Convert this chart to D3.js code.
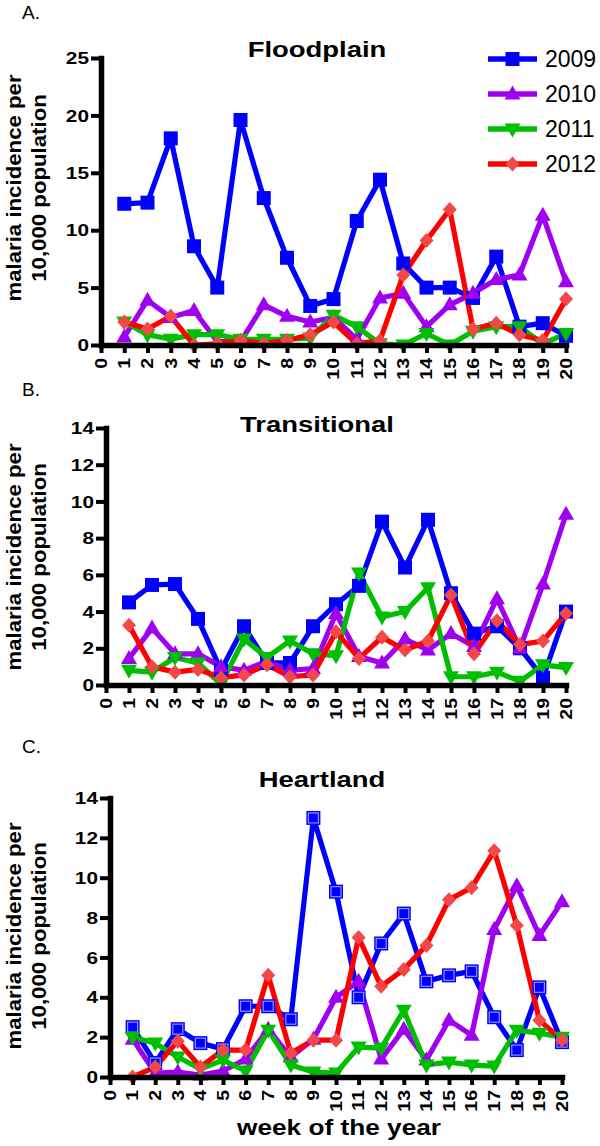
<!DOCTYPE html>
<html>
<head>
<meta charset="utf-8">
<script src="https://cdn.jsdelivr.net/npm/d3@7"></script>
<style>
  html, body { margin: 0; padding: 0; background: #fff; }
  svg { display: block; }
  text { font-family: "Liberation Sans", Arial, Helvetica, sans-serif; }
</style>
</head>
<body>
<svg id="chart" width="600" height="1146"></svg>
<script>
// ---------------- DATA ----------------
const weeks = [1,2,3,4,5,6,7,8,9,10,11,12,13,14,15,16,17,18,19,20];
const weekTicks = [0,1,2,3,4,5,6,7,8,9,10,11,12,13,14,15,16,17,18,19,20];
const years = ["2009", "2010", "2011", "2012"];

const flood2009 = [12.3,12.4,18.0,8.6,5.0,19.6,12.8,7.6,3.4,4.0,10.8,14.4,7.1,5.0,5.0,4.1,7.7,1.6,1.9,0.8];
const flood2010 = [0.7,3.9,2.4,3.0,0.3,0.3,3.5,2.5,2.0,2.4,0.5,4.1,4.5,1.6,3.5,4.5,5.7,6.1,11.3,5.5];
const flood2011 = [2.0,0.9,0.5,0.9,0.9,0.5,0.5,0.5,0.6,2.6,1.6,0.1,0.0,1.0,0.0,1.2,1.6,1.6,0.1,1.0];
const flood2012 = [2.0,1.4,2.5,0.0,0.1,0.4,0.1,0.4,0.9,2.0,0.1,0.4,6.1,9.1,11.8,1.4,1.9,0.9,0.4,4.0];

const trans2009 = [4.5,5.45,5.5,3.6,0.8,3.2,1.2,1.2,3.2,4.4,5.4,8.9,6.4,9.0,5.0,2.8,3.2,2.0,0.4,4.0];
const trans2010 = [1.45,3.1,1.7,1.7,1.0,0.8,1.3,0.8,0.9,3.9,1.55,1.2,2.5,1.9,2.8,2.1,4.7,2.0,5.5,9.3];
const trans2011 = [0.8,0.7,1.5,1.2,0.05,2.5,1.5,2.4,1.7,1.6,6.1,3.7,4.0,5.3,0.45,0.45,0.7,0.2,1.1,0.95];
const trans2012 = [3.25,1.0,0.7,0.85,0.4,0.55,1.1,0.45,0.55,2.9,1.45,2.6,1.9,2.4,4.9,1.7,3.5,2.2,2.4,3.9];

const heart2009 = [2.5,0.7,2.4,1.7,1.4,3.55,3.55,2.9,13.0,9.3,4.0,6.7,8.2,4.8,5.1,5.3,3.0,1.35,4.5,1.75];
const heart2010 = [1.9,0.2,0.25,0.1,0.3,0.9,2.4,1.0,1.9,4.0,4.8,0.9,2.4,0.85,2.85,2.1,7.4,9.6,7.1,8.8];
const heart2011 = [2.0,1.7,1.0,0.4,0.85,0.3,2.35,0.6,0.25,0.2,1.5,1.45,3.35,0.6,0.75,0.6,0.55,2.35,2.2,2.0];
const heart2012 = [0.0,0.5,1.8,0.5,1.35,1.35,5.1,1.2,1.85,1.85,7.0,4.55,5.4,6.6,8.9,9.5,11.35,7.6,2.85,1.85];

const floodTicks = [0,5,10,15,20,25];
const otherTicks = [0,2,4,6,8,10,12,14];

// ---------------- STYLE / LAYOUT ----------------
const colors = {"2009": "#0000ff", "2010": "#a000f0", "2011": "#00bf00", "2012": "#ff0000"};
const markerFill = {"2009": "#0000ff", "2010": "#a000f0", "2011": "#00bf00", "2012": "#f24848"};
const shapes = {"2009": "square", "2010": "up", "2011": "down", "2012": "diamond"};
const STRETCH = 1.22;

const panels = [
  { letter: "A.", letterY: 19, title: "Floodplain", titleX: 317, titleY: 57,
    series: [flood2009, flood2010, flood2011, flood2012], yMax: 25, yTicks: floodTicks,
    x0: 101, x1: 566, y0: 345, y1: 58, labelCY: 188, squareStyle: "plain" },
  { letter: "B.", letterY: 396, title: "Transitional", titleX: 317, titleY: 432,
    series: [trans2009, trans2010, trans2011, trans2012], yMax: 14, yTicks: otherTicks,
    x0: 106, x1: 566, y0: 685, y1: 428, labelCY: 557, squareStyle: "plain" },
  { letter: "C.", letterY: 753, title: "Heartland", titleX: 322, titleY: 787,
    series: [heart2009, heart2010, heart2011, heart2012], yMax: 14, yTicks: otherTicks,
    x0: 110, x1: 562, y0: 1077, y1: 798, labelCY: 936, squareStyle: "double" }
];

const svg = d3.select("#chart");

function markerPath(shape) {
  switch (shape) {
    case "up": return "M0,-8.5L8,5.5L-8,5.5Z";
    case "down": return "M0,8.5L8,-5.5L-8,-5.5Z";
    case "diamond": return "M0,-7.5L7,0L0,7.5L-7,0Z";
    default: return "M-7,-7H7V7H-7Z";
  }
}

function drawMarker(g, yr, cx, cy, squareStyle) {
  const m = g.append("g").attr("transform", `translate(${cx},${cy})`);
  m.append("path").attr("d", markerPath(shapes[yr])).attr("fill", markerFill[yr]);
  if (shapes[yr] === "square" && squareStyle === "double") {
    m.append("rect").attr("x", -5).attr("y", -5).attr("width", 10).attr("height", 10)
      .attr("fill", "none").attr("stroke", "#8f8fff").attr("stroke-width", 1.2);
  }
}

function stretchedText(parent, txt, x, y, opts) {
  const rot = opts.rotate ? ` rotate(${opts.rotate})` : "";
  return parent.append("text")
    .attr("transform", `translate(${x},${y})${rot} scale(${opts.stretch || STRETCH},1)`)
    .attr("text-anchor", opts.anchor || "middle")
    .attr("font-size", opts.size)
    .attr("font-weight", opts.weight || "bold")
    .attr("dy", opts.dy || 0)
    .attr("fill", "#000")
    .text(txt);
}

panels.forEach(p => {
  const x = d3.scaleLinear().domain([0, 20]).range([p.x0, p.x1]);
  const y = d3.scaleLinear().domain([0, p.yMax]).range([p.y0, p.y1]);
  const g = svg.append("g");

  // panel letter
  g.append("text").attr("x", 22).attr("y", p.letterY).attr("font-size", 19)
    .attr("fill", "#000").text(p.letter);

  // title
  stretchedText(g, p.title, p.titleX, p.titleY, { size: 22.5 });

  // y axis title (two lines)
  stretchedText(g, "malaria incidence per", 21, p.labelCY, { size: 19.5, rotate: -90, stretch: 1.14 });
  stretchedText(g, "10,000 population", 46, p.labelCY, { size: 19.5, rotate: -90, stretch: 1.14 });

  // series
  const line = d3.line().x((d, i) => x(weeks[i])).y(d => y(d));
  const dataG = g.append("g");
  years.forEach((yr, k) => {
    const vals = p.series[k];
    dataG.append("path").datum(vals).attr("d", line)
      .attr("fill", "none").attr("stroke", colors[yr]).attr("stroke-width", 5.2)
      .attr("stroke-linejoin", "round");
  });
  years.forEach((yr, k) => {
    const vals = p.series[k];
    vals.forEach((v, i) => drawMarker(dataG, yr, x(weeks[i]), y(v), p.squareStyle));
  });

  // axes
  const xAxis = d3.axisBottom(x).tickValues(weekTicks).tickSizeInner(8).tickSizeOuter(0).tickPadding(0)
    .tickFormat(d3.format("d"));
  const xg = g.append("g").attr("transform", `translate(0,${p.y0})`).call(xAxis);
  xg.select(".domain").attr("stroke", "#000").attr("stroke-width", 5.5).attr("stroke-linecap", "square");
  xg.selectAll(".tick line").attr("stroke", "#000").attr("stroke-width", 4);
  xg.selectAll(".tick text")
    .attr("y", null).attr("dy", null)
    .attr("transform", "translate(0,13) rotate(-90) scale(1.22,1)")
    .attr("text-anchor", "end")
    .attr("dominant-baseline", "central")
    .attr("font-size", 16).attr("font-weight", "bold")
    .attr("font-family", "'Liberation Sans', Arial, sans-serif")
    .attr("fill", "#000");

  const yAxis = d3.axisLeft(y).tickValues(p.yTicks).tickSizeInner(10).tickSizeOuter(0).tickPadding(0)
    .tickFormat(d3.format("d"));
  const yg = g.append("g").attr("transform", `translate(${p.x0},0)`).call(yAxis);
  yg.select(".domain").attr("stroke", "#000").attr("stroke-width", 5.5).attr("stroke-linecap", "square");
  yg.selectAll(".tick line").attr("stroke", "#000").attr("stroke-width", 4);
  yg.selectAll(".tick text")
    .attr("x", null).attr("dy", null)
    .attr("transform", "translate(-12,0) scale(1.3,1)")
    .attr("text-anchor", "end")
    .attr("dominant-baseline", "central")
    .attr("font-size", 16).attr("font-weight", "bold")
    .attr("font-family", "'Liberation Sans', Arial, sans-serif")
    .attr("fill", "#000");
});

// x axis title (bottom)
stretchedText(svg, "week of the year", 339, 1135, { size: 21.5 });

// legend
const legend = svg.append("g");
years.forEach((yr, k) => {
  const cy = 59 + k * 35;
  legend.append("line").attr("x1", 488).attr("x2", 537).attr("y1", cy).attr("y2", cy)
    .attr("stroke", colors[yr]).attr("stroke-width", 5.5);
  drawMarker(legend, yr, 512.5, cy, "plain");
  legend.append("text").attr("x", 545).attr("y", cy + 8.3).attr("font-size", 23)
    .attr("fill", "#000").text(yr);
});
</script>
</body>
</html>
